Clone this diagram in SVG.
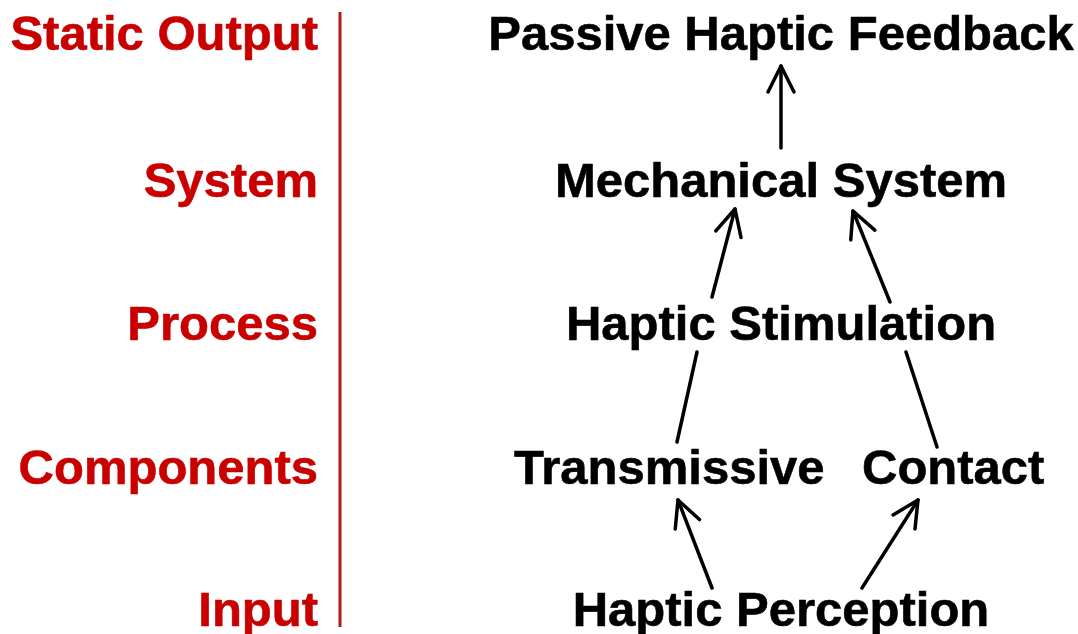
<svg xmlns="http://www.w3.org/2000/svg" width="1078" height="634" viewBox="0 0 1078 634">
  <style>
    text { font-family: "Liberation Sans", Arial, sans-serif; font-weight: bold; font-size: 49px; stroke-width: 0.6; stroke-linejoin: round; }
    .level { fill: #c80000; stroke: #c80000; text-anchor: end; }
    .node { fill: #000000; stroke: #000000; }
    .mid { text-anchor: middle; }
    .link { stroke: #000000; stroke-width: 3.5; stroke-linecap: round; fill: none; }
  </style>
  <defs>
    <marker id="head" markerUnits="userSpaceOnUse" markerWidth="40" markerHeight="40" viewBox="-30 -20 40 40" refX="0" refY="0" orient="auto">
      <path d="M-26,-13 L0,0 L-26,13" stroke="#000" stroke-width="3.5" stroke-linecap="round" stroke-linejoin="round" fill="none"/>
    </marker>
  </defs>
  <rect width="1078" height="634" fill="#ffffff"/>

  <!-- level labels and divider -->
  <g id="levels">
    <text class="level" x="318" y="50">Static Output</text>
    <text class="level" x="318" y="197">System</text>
    <text class="level" x="318" y="340">Process</text>
    <text class="level" x="318" y="484">Components</text>
    <text class="level" x="318" y="626">Input</text>
    <line x1="340" y1="12" x2="340" y2="627" stroke="#b51a1a" stroke-width="3"/>
  </g>

  <!-- nodes -->
  <g id="passive-haptic-feedback"><text class="node mid" x="781" y="50">Passive Haptic Feedback</text></g>
  <g id="mechanical-system"><text class="node mid" x="781" y="197">Mechanical System</text></g>
  <g id="haptic-stimulation"><text class="node mid" x="781" y="340">Haptic Stimulation</text></g>
  <g id="transmissive"><text class="node" x="514" y="484">Transmissive</text></g>
  <g id="contact"><text class="node" x="862" y="484">Contact</text></g>
  <g id="haptic-perception"><text class="node mid" x="781" y="626">Haptic Perception</text></g>

  <!-- connectors -->
  <g id="connectors">
    <line class="link" x1="781" y1="148" x2="781" y2="66" marker-end="url(#head)"/>
    <line class="link" x1="712" y1="297" x2="735" y2="209" marker-end="url(#head)"/>
    <line class="link" x1="890" y1="302" x2="853" y2="211" marker-end="url(#head)"/>
    <line class="link" x1="677" y1="442" x2="697" y2="352"/>
    <line class="link" x1="937" y1="447" x2="906" y2="352"/>
    <line class="link" x1="712" y1="588" x2="678" y2="500" marker-end="url(#head)"/>
    <line class="link" x1="862" y1="588" x2="918" y2="500" marker-end="url(#head)"/>
  </g>
</svg>
